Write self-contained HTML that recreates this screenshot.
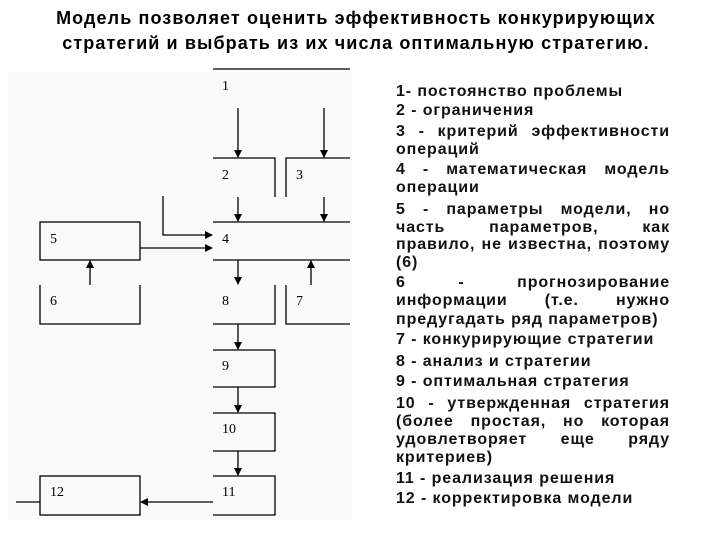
<!DOCTYPE html>
<html><head><meta charset="utf-8"><style>
body{margin:0;width:720px;height:540px;background:#fff;position:relative;overflow:hidden;font-family:"Liberation Sans",Arial,sans-serif}
.t{position:absolute;left:0;width:712px;text-align:center;font-weight:bold;font-size:18px;letter-spacing:1.1px;line-height:22px;white-space:nowrap}
.l{position:absolute;left:396px;width:274px;font-size:16px;letter-spacing:0.9px;font-weight:bold;line-height:18px;white-space:nowrap;color:#111}
.j{text-align:justify;text-align-last:justify}
</style></head><body>
<div class="t" style="top:7px">Модель позволяет оценить эффективность конкурирующих</div>
<div class="t" style="top:32px">стратегий и выбрать из их числа оптимальную стратегию.</div>
<svg width="360" height="540" style="position:absolute;left:0;top:0" font-family="Liberation Serif,serif" font-size="14">
<defs><marker id="a" markerWidth="8" markerHeight="8" refX="7" refY="4" orient="auto" markerUnits="userSpaceOnUse"><path d="M0,0L8,4L0,8z" fill="#000"/></marker></defs>
<rect x="8" y="72" width="344" height="448" fill="#fafafa"/>
<g stroke="#000" stroke-width="1.3" fill="none">
<line x1="213" y1="69" x2="350" y2="69"/>
<line x1="238" y1="108" x2="238" y2="157" marker-end="url(#a)"/>
<line x1="324" y1="108" x2="324" y2="157" marker-end="url(#a)"/>
<polyline points="213,158 275,158 275,197"/>
<polyline points="350,158 286,158 286,197"/>
<line x1="238" y1="197" x2="238" y2="221" marker-end="url(#a)"/>
<line x1="324" y1="197" x2="324" y2="221" marker-end="url(#a)"/>
<line x1="213" y1="222" x2="350" y2="222"/>
<line x1="213" y1="260" x2="350" y2="260"/>
<rect x="40" y="222" width="100" height="38"/>
<polyline points="163,196 163,235 212,235" marker-end="url(#a)"/>
<line x1="140" y1="248" x2="212" y2="248" marker-end="url(#a)"/>
<line x1="90" y1="285" x2="90" y2="261" marker-end="url(#a)"/>
<line x1="238" y1="260" x2="238" y2="284" marker-end="url(#a)"/>
<line x1="311" y1="285" x2="311" y2="261" marker-end="url(#a)"/>
<polyline points="40,285 40,324 140,324 140,285"/>
<polyline points="275,285 275,324 213,324"/>
<polyline points="286,285 286,324 350,324"/>
<line x1="238" y1="324" x2="238" y2="349" marker-end="url(#a)"/>
<polyline points="213,350 275,350 275,387 213,387"/>
<line x1="238" y1="387" x2="238" y2="412" marker-end="url(#a)"/>
<polyline points="213,413 275,413 275,451 213,451"/>
<line x1="238" y1="451" x2="238" y2="475" marker-end="url(#a)"/>
<polyline points="213,476 275,476 275,515 213,515"/>
<rect x="40" y="476" width="100" height="39"/>
<line x1="213" y1="502" x2="141" y2="502" marker-end="url(#a)"/>
<line x1="16" y1="502" x2="40" y2="502"/>
</g>
<g fill="#000">
<text x="222" y="90">1</text><text x="222" y="179">2</text><text x="296" y="179">3</text>
<text x="222" y="243">4</text><text x="50" y="243">5</text><text x="50" y="305">6</text>
<text x="222" y="305">8</text><text x="296" y="305">7</text><text x="222" y="370">9</text>
<text x="222" y="433">10</text><text x="222" y="496">11</text><text x="50" y="496">12</text>
</g>
</svg>
<div class="l" style="top:83px">1- постоянство проблемы</div>
<div class="l" style="top:102px">2 - ограничения</div>
<div class="l j" style="top:123px">3 - критерий эффективности</div>
<div class="l" style="top:141px">операций</div>
<div class="l j" style="top:161px">4 - математическая модель</div>
<div class="l" style="top:179px">операции</div>
<div class="l j" style="top:201px">5 - параметры модели, но</div>
<div class="l j" style="top:219px">часть параметров, как</div>
<div class="l j" style="top:236px">правило, не известна, поэтому</div>
<div class="l" style="top:254px">(6)</div>
<div class="l j" style="top:274px">6 - прогнозирование</div>
<div class="l j" style="top:292px">информации (т.е. нужно</div>
<div class="l" style="top:311px">предугадать ряд параметров)</div>
<div class="l" style="top:331px">7 - конкурирующие стратегии</div>
<div class="l" style="top:353px">8 - анализ и стратегии</div>
<div class="l" style="top:373px">9 - оптимальная стратегия</div>
<div class="l j" style="top:395px">10 - утвержденная стратегия</div>
<div class="l j" style="top:413px">(более простая, но которая</div>
<div class="l j" style="top:431px">удовлетворяет еще ряду</div>
<div class="l" style="top:449px">критериев)</div>
<div class="l" style="top:470px">11 - реализация решения</div>
<div class="l" style="top:490px">12 - корректировка модели</div>
</body></html>
